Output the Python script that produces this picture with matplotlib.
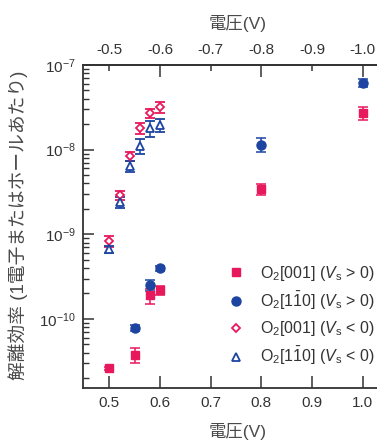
import numpy as np
import matplotlib.pyplot as plt
from matplotlib.lines import Line2D
from matplotlib.ticker import FixedLocator, FixedFormatter

plt.rcParams['font.family'] = ['Liberation Sans', 'Noto Sans CJK JP']
plt.rcParams['mathtext.fontset'] = 'custom'
plt.rcParams['mathtext.rm'] = 'Liberation Sans'
plt.rcParams['mathtext.it'] = 'Liberation Sans:italic'
plt.rcParams['mathtext.bf'] = 'Liberation Sans:bold'

## data
# O2[001] (Vs > 0), filled squares
sq_x = [0.50, 0.55, 0.58, 0.60, 0.80, 1.00]
sq_y = [2.6e-11, 3.8e-11, 1.9e-10, 2.2e-10, 3.4e-9, 2.7e-8]
sq_err = [0.05, 0.20, 0.20, 0.12, 0.15, 0.18]   # relative

# O2[1-10] (Vs > 0), filled circles
ci_x = [0.55, 0.58, 0.60, 0.80, 1.00]
ci_y = [7.9e-11, 2.5e-10, 4.0e-10, 1.15e-8, 6.2e-8]
ci_err = [0.08, 0.15, 0.07, 0.18, 0.11]

# O2[001] (Vs < 0), open diamonds
di_x = [0.50, 0.52, 0.54, 0.56, 0.58, 0.60]
di_y = [8.4e-10, 2.9e-9, 8.4e-9, 1.8e-8, 2.7e-8, 3.2e-8]
di_err = [0.15, 0.13, 0.12, 0.14, 0.12, 0.15]

# O2[1-10] (Vs < 0), open triangles
tr_x = [0.50, 0.52, 0.54, 0.56, 0.58, 0.60]
tr_y = [6.7e-10, 2.4e-9, 6.4e-9, 1.1e-8, 1.8e-8, 1.95e-8]
tr_err = [0.09, 0.14, 0.16, 0.20, 0.22, 0.18]

bottom_ticks = [0.5, 0.6, 0.7, 0.8, 0.9, 1.0]
bottom_labels = ['0.5', '0.6', '0.7', '0.8', '0.9', '1.0']
top_major = [0.6, 0.8, 1.0]
top_major_labels = ['-0.6', '-0.8', '-1.0']
top_minor = [0.5, 0.7, 0.9]
top_minor_labels = ['-0.5', '-0.7', '-0.9']

labels = [r'O$_2$[001] ($V_\mathrm{s}$ > 0)',
          r'O$_2$[1$\bar{1}$0] ($V_\mathrm{s}$ > 0)',
          r'O$_2$[001] ($V_\mathrm{s}$ < 0)',
          r'O$_2$[1$\bar{1}$0] ($V_\mathrm{s}$ < 0)']

red = '#e8185c'
blue = '#1c44a0'
dark = '#333333'
grey = '#4a4a4a'

fig = plt.figure(figsize=(3.77, 4.41), dpi=100)
ax = fig.add_axes([0.2202, 0.1202, 0.8226, 0.7324])

def rel(y, e):
    return np.array(y) * np.array(e)

ax.errorbar(sq_x, sq_y, yerr=rel(sq_y, sq_err), fmt='s', color=red, ms=6,
            capsize=3.5, elinewidth=1.1, capthick=1.1)
ax.errorbar(ci_x, ci_y, yerr=rel(ci_y, ci_err), fmt='o', color=blue, ms=6.5,
            capsize=3.5, elinewidth=1.1, capthick=1.1)
ax.errorbar(di_x, di_y, yerr=rel(di_y, di_err), fmt='D', color=red, mfc='white',
            mec=red, mew=1.3, ms=4, capsize=3.5, elinewidth=1.1, capthick=1.1)
ax.errorbar(tr_x, tr_y, yerr=rel(tr_y, tr_err), fmt='^', color=blue, mfc='white',
            mec=blue, mew=1.3, ms=5.5, capsize=3.5, elinewidth=1.1, capthick=1.1)

ax.set_yscale('log')
ax.set_ylim(1.53e-11, 1e-7)
ax.set_xlim(0.448, 1.06)
ax.set_xticks(bottom_ticks)
ax.set_xticklabels(bottom_labels)
ax.tick_params(axis='x', direction='in', length=8.5, width=1.1, pad=6,
               labelsize=11, color=dark, labelcolor=dark)
ax.tick_params(axis='y', which='major', direction='in', length=8, width=1.1,
               pad=5, labelsize=11, color=dark, labelcolor=dark)
ax.tick_params(axis='y', which='minor', direction='in', length=4.5, width=1.0,
               color=dark)
ax.spines['right'].set_visible(False)
for s in ['left', 'bottom', 'top']:
    ax.spines[s].set_linewidth(1.3)
    ax.spines[s].set_color(dark)

ax.set_xlabel('電圧(V)', fontsize=12.5, labelpad=9, color=grey)

# top axis with the negative voltage
ax2 = ax.twiny()
ax2.set_xlim(ax.get_xlim())
ax2.xaxis.set_major_locator(FixedLocator(top_major))
ax2.xaxis.set_major_formatter(FixedFormatter(top_major_labels))
ax2.xaxis.set_minor_locator(FixedLocator(top_minor))
ax2.xaxis.set_minor_formatter(FixedFormatter(top_minor_labels))
ax2.tick_params(axis='x', which='major', direction='in', length=8.5, width=1.1,
                pad=6, labelsize=11, color=dark, labelcolor=dark)
ax2.tick_params(axis='x', which='minor', direction='in', length=4.5, width=1.1,
                pad=6, labelsize=11, color=dark, labelcolor=dark)
for s in ['left', 'bottom', 'right']:
    ax2.spines[s].set_visible(False)
ax2.spines['top'].set_linewidth(1.3)
ax2.spines['top'].set_color(dark)
ax2.set_xlabel('電圧(V)', fontsize=12.5, labelpad=10, color=grey)

fig.text(0.048, 0.49, '解離効率 (1電子またはホールあたり)', rotation=90,
         ha='center', va='center', fontsize=13.5, color=grey)

handles = [Line2D([], [], ls='none', marker='s', color=red, ms=6),
           Line2D([], [], ls='none', marker='o', color=blue, ms=6.5),
           Line2D([], [], ls='none', marker='D', mfc='white', mec=red, mew=1.3, ms=4.2),
           Line2D([], [], ls='none', marker='^', mfc='white', mec=blue, mew=1.3, ms=5.5)]
fig.legend(handles, labels, loc='upper left', bbox_to_anchor=(0.606, 0.402),
           frameon=False, fontsize=11.5, borderpad=0, borderaxespad=0,
           handlelength=1.0, handletextpad=1.0, labelspacing=0.45,
           labelcolor=dark)

plt.savefig('out.png', dpi=100)
